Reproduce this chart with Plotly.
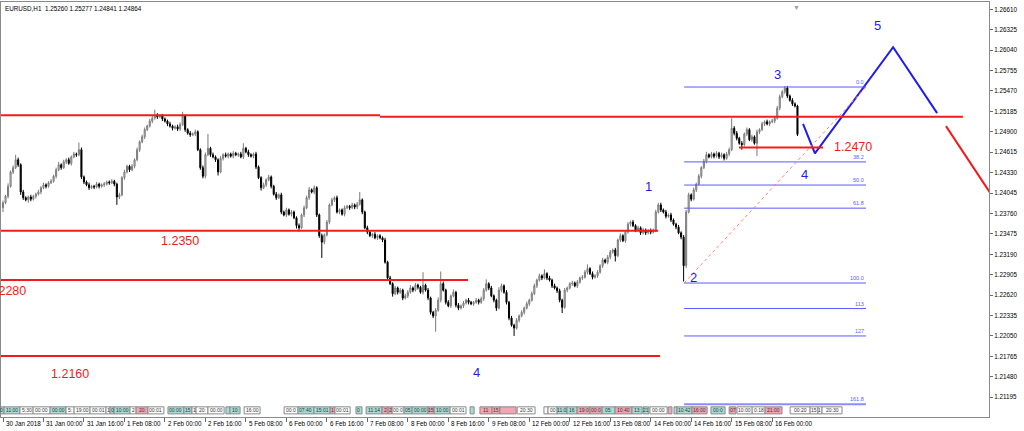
import plotly.graph_objects as go

# ---------------- data ----------------
symbol = "EURUSD,H1"
first_open = 1.2384

close = [
    1.2391, 1.2400, 1.2414, 1.2434, 1.2440, 1.2451, 1.2444, 1.2406, 1.2398, 1.2395,
    1.2399, 1.2396, 1.2400, 1.2403, 1.2406, 1.2412, 1.2416, 1.2414, 1.2419, 1.2421,
    1.2428, 1.2437, 1.2444, 1.2440, 1.2448, 1.2451, 1.2446, 1.2455, 1.2459, 1.2458,
    1.2465, 1.2427, 1.2420, 1.2416, 1.2412, 1.2414, 1.2413, 1.2417, 1.2414, 1.2416,
    1.2417, 1.2420, 1.2419, 1.2421, 1.2417, 1.2399, 1.2402, 1.2426, 1.2434, 1.2442,
    1.2437, 1.2442, 1.2451, 1.2465, 1.2476, 1.2483, 1.2493, 1.2498, 1.2505, 1.2509,
    1.2513, 1.2511, 1.2512, 1.2508, 1.2505, 1.2501, 1.2498, 1.2495, 1.2497, 1.2494,
    1.2500, 1.2512, 1.2493, 1.2488, 1.2486, 1.2487, 1.2490, 1.2465, 1.2440, 1.2428,
    1.2458, 1.2467, 1.2458, 1.2455, 1.2451, 1.2434, 1.2453, 1.2458, 1.2456, 1.2459,
    1.2456, 1.2460, 1.2458, 1.2459, 1.2455, 1.2467, 1.2462, 1.2458, 1.2456, 1.2459,
    1.2441, 1.2426, 1.2412, 1.2416, 1.2423, 1.2427, 1.2414, 1.2403, 1.2398, 1.2402,
    1.2378, 1.2374, 1.2381, 1.2375, 1.2378, 1.2370, 1.2359, 1.2356, 1.2374, 1.2384,
    1.2398, 1.2409, 1.2406, 1.2412, 1.2374, 1.2345, 1.2336, 1.2346, 1.2364, 1.2388,
    1.2395, 1.2398, 1.2378, 1.2381, 1.2375, 1.2384, 1.2386, 1.2384, 1.2388, 1.2385,
    1.2389, 1.2395, 1.2378, 1.2356, 1.2350, 1.2345, 1.2347, 1.2342, 1.2345, 1.2342,
    1.2339, 1.2308, 1.2286, 1.2278, 1.2264, 1.2272, 1.2266, 1.2269, 1.2258, 1.2261,
    1.2266, 1.2272, 1.2269, 1.2276, 1.2273, 1.2266, 1.2276, 1.2269, 1.2258, 1.2238,
    1.2233, 1.2241, 1.2255, 1.2278, 1.2269, 1.2252, 1.2247, 1.2261, 1.2266, 1.2248,
    1.2244, 1.2247, 1.2251, 1.2255, 1.2252, 1.2250, 1.2252, 1.2255, 1.2252, 1.2257,
    1.2269, 1.2278, 1.2272, 1.2261, 1.2255, 1.2244, 1.2269, 1.2275, 1.2266, 1.2252,
    1.2230, 1.2220, 1.2216, 1.2227, 1.2233, 1.2238, 1.2244, 1.2250, 1.2255, 1.2264,
    1.2275, 1.2283, 1.2289, 1.2286, 1.2292, 1.2286, 1.2283, 1.2275, 1.2272, 1.2268,
    1.2255, 1.2245, 1.2269, 1.2272, 1.2278, 1.2279, 1.2275, 1.2280, 1.2286, 1.2287,
    1.2294, 1.2299, 1.2292, 1.2287, 1.2289, 1.2294, 1.2303, 1.2311, 1.2308, 1.2315,
    1.2322, 1.2325, 1.2317, 1.2339, 1.2345, 1.2338, 1.2350, 1.2361, 1.2364, 1.2359,
    1.2353, 1.2356, 1.2349, 1.2353, 1.2349, 1.2352, 1.2350, 1.2353, 1.2378, 1.2388,
    1.2381, 1.2378, 1.2372, 1.2374, 1.2367, 1.2361, 1.2357, 1.2349, 1.2343, 1.2303,
    1.2378, 1.2402, 1.2396, 1.2409, 1.2417, 1.2428, 1.2440, 1.2449, 1.2458, 1.2455,
    1.2459, 1.2456, 1.2460, 1.2455, 1.2458, 1.2453, 1.2459, 1.2465, 1.2495, 1.2488,
    1.2481, 1.2474, 1.2472, 1.2487, 1.2493, 1.2479, 1.2483, 1.2474, 1.2490, 1.2493,
    1.2501, 1.2504, 1.2501, 1.2504, 1.2505, 1.2509, 1.2523, 1.2539, 1.2546, 1.2551,
    1.2540, 1.2534, 1.2529, 1.2526, 1.24864,
]

upper_wick_pips = [
    3, 2, 4, 2, 3, 7, 3, 2, 3, 2,
    2, 3, 2, 2, 3, 2, 3, 2, 2, 3,
    2, 3, 4, 2, 3, 2, 3, 2, 3, 2,
    10, 3, 2, 2, 3, 2, 2, 3, 2, 2,
    3, 2, 2, 3, 2, 2, 3, 2, 3, 2,
    2, 3, 2, 3, 2, 3, 3, 2, 3, 4,
    8, 3, 2, 3, 2, 2, 3, 2, 2, 3,
    3, 6, 2, 2, 3, 2, 3, 2, 2, 3,
    3, 20, 2, 3, 2, 2, 3, 2, 3, 2,
    2, 3, 2, 2, 3, 7, 2, 3, 2, 2,
    3, 2, 2, 3, 2, 3, 2, 2, 3, 2,
    3, 2, 3, 2, 3, 2, 2, 3, 2, 3,
    3, 4, 2, 3, 2, 2, 3, 2, 3, 2,
    3, 2, 3, 2, 2, 3, 2, 2, 3, 2,
    3, 11, 2, 2, 3, 2, 2, 3, 2, 2,
    2, 3, 2, 3, 2, 3, 2, 3, 2, 3,
    3, 4, 2, 3, 2, 2, 18, 2, 3, 2,
    2, 3, 4, 17, 3, 2, 3, 2, 4, 2,
    3, 2, 3, 2, 3, 2, 2, 3, 2, 3,
    3, 6, 2, 3, 2, 2, 4, 3, 2, 3,
    2, 3, 2, 3, 2, 3, 2, 3, 2, 3,
    3, 2, 3, 2, 6, 2, 3, 2, 3, 2,
    3, 2, 3, 2, 2, 3, 2, 3, 2, 3,
    3, 6, 2, 3, 2, 3, 2, 3, 2, 3,
    3, 2, 3, 2, 3, 2, 3, 3, 2, 3,
    2, 3, 2, 3, 2, 2, 3, 2, 3, 3,
    3, 2, 3, 2, 3, 2, 2, 3, 2, 3,
    3, 3, 2, 3, 2, 3, 2, 3, 4, 2,
    3, 2, 3, 2, 3, 2, 3, 3, 14, 3,
    3, 2, 3, 2, 3, 2, 3, 2, 3, 2,
    3, 2, 3, 2, 3, 2, 3, 3, 2, 3,
    3, 2, 3, 2, 1.7,
]

lower_wick_pips = [
    6, 2, 3, 2, 3, 2, 3, 4, 3, 2,
    4, 3, 2, 3, 2, 3, 2, 3, 2, 2,
    2, 3, 2, 3, 2, 3, 2, 3, 2, 3,
    2, 3, 3, 2, 3, 2, 3, 2, 3, 2,
    3, 2, 3, 2, 3, 11, 3, 2, 3, 2,
    3, 2, 3, 2, 3, 2, 3, 2, 2, 3,
    2, 3, 2, 3, 2, 3, 2, 3, 2, 3,
    3, 2, 3, 2, 3, 2, 3, 2, 3, 3,
    3, 2, 3, 2, 3, 5, 2, 3, 2, 3,
    2, 3, 2, 3, 2, 3, 2, 3, 2, 3,
    3, 2, 4, 2, 3, 2, 3, 2, 3, 2,
    3, 2, 3, 2, 3, 2, 4, 5, 2, 3,
    2, 3, 2, 3, 3, 3, 22, 3, 2, 3,
    2, 3, 2, 3, 2, 3, 2, 3, 2, 3,
    3, 2, 3, 2, 3, 2, 3, 2, 3, 2,
    3, 2, 3, 2, 4, 2, 3, 2, 3, 2,
    3, 2, 3, 2, 3, 2, 3, 2, 3, 3,
    3, 22, 2, 3, 2, 3, 2, 3, 2, 3,
    3, 2, 3, 2, 3, 2, 3, 2, 3, 2,
    3, 2, 3, 2, 3, 4, 2, 3, 2, 3,
    3, 2, 11, 2, 3, 2, 3, 2, 3, 2,
    2, 3, 2, 3, 2, 3, 2, 3, 2, 3,
    3, 8, 2, 3, 2, 3, 2, 3, 2, 3,
    2, 3, 2, 3, 2, 3, 2, 3, 2, 3,
    3, 2, 8, 2, 3, 2, 3, 2, 3, 2,
    3, 2, 3, 2, 3, 2, 3, 2, 3, 2,
    3, 2, 3, 2, 3, 2, 3, 2, 3, 22,
    3, 2, 3, 2, 3, 2, 3, 2, 3, 2,
    2, 3, 2, 3, 2, 3, 2, 3, 2, 3,
    3, 2, 7, 2, 3, 2, 3, 2, 18, 3,
    2, 3, 2, 3, 2, 3, 2, 3, 2, 3,
    3, 2, 3, 2, 2.3,
]

y_ticks = [1.21195, 1.21480, 1.21765, 1.22050, 1.22335, 1.22620, 1.22905, 1.23190,
           1.23475, 1.23760, 1.24045, 1.24330, 1.24615, 1.24900, 1.25185, 1.25470,
           1.25755, 1.26040, 1.26325, 1.26610]

x_tick_index = [0, 16, 32, 48, 64, 80, 96, 112, 128, 144, 160, 176, 192, 208,
                224, 240, 256, 272, 288, 304]
x_tick_text = ["30 Jan 2018", "31 Jan 00:00", "31 Jan 16:00", "1 Feb 08:00",
               "2 Feb 00:00", "2 Feb 16:00", "5 Feb 08:00", "6 Feb 00:00",
               "6 Feb 16:00", "7 Feb 08:00", "8 Feb 00:00", "8 Feb 16:00",
               "9 Feb 08:00", "12 Feb 00:00", "12 Feb 16:00", "13 Feb 08:00",
               "14 Feb 00:00", "14 Feb 16:00", "15 Feb 08:00", "16 Feb 00:00"]

# red support / resistance levels
red_level_price = [1.2513, 1.2511, 1.2352, 1.2283, 1.2177, 1.2468]
red_level_start = [-1.2, 149.0, -1.2, -1.2, -1.2, 290.9]
red_level_end = [149.0, 379.4, 258.9, 183.8, 259.7, 324.1]
red_label_text = ["1.2350", "1.2280", "1.2160", "1.2470"]
red_label_x = [70.0, 9.9, 26.5, 336.0]
red_label_y = [1.23376, 1.22678, 1.21519, 1.24688]
red_label_anchor = ["center", "right", "center", "center"]
red_diag_x = [372.7, 390.1]
red_diag_y = [1.2498, 1.2405]

# fibonacci retracement
fib_high = 1.25525
fib_low = 1.22789
fib_levels = [0.0, 38.2, 50.0, 61.8, 100.0, 113.0, 127.0, 161.8]
fib_text = ["0.0", "38.2", "50.0", "61.8", "100.0", "113", "127", "161.8"]
fib_start = 269.2
fib_end = 341.1

# Elliott wave projection and labels
wave_x = [316.2, 320.9, 351.8, 369.2]
wave_y = [1.2501, 1.2460, 1.2608, 1.2516]
wave_label_text = ["1", "2", "3", "4", "5", "4"]
wave_label_x = [255.3, 273.1, 306.3, 316.6, 345.5, 187.0]
wave_label_y = [1.24143, 1.22873, 1.25707, 1.24310, 1.26391, 1.21547]

# economic-calendar event strip (bar index span, text, kind)
event_start = [-1.2, 0.4, 6.7, 11.9, 18.6, 24.9, 28.1, 34.4, 40.7, 42.3, 43.9, 50.2,
               52.6, 57.3, 65.2, 71.5, 74.7, 76.3, 81.0, 88.1, 89.7, 95.3, 111.1,
               116.6, 122.9, 129.3, 131.2, 139.5, 143.5, 149.8, 152.2, 153.8, 158.5,
               161.7, 168.0, 170.4, 176.7, 184.6, 188.5, 193.3, 196.4, 203.2, 213.8,
               215.4, 219.0, 222.9, 226.9, 232.0, 236.8, 241.9, 248.6, 253.0, 255.7,
               262.9, 265.2, 266.4, 272.3, 279.8, 287.0, 290.1, 296.1, 301.2, 311.1,
               319.0, 322.1, 323.7]
event_end = [0.4, 6.7, 11.9, 18.6, 24.9, 28.1, 34.4, 40.7, 42.3, 43.9, 50.2, 52.6,
             57.3, 63.6, 71.5, 74.7, 76.3, 81.0, 87.4, 89.7, 93.7, 101.6, 116.6,
             122.9, 129.3, 131.2, 137.2, 141.9, 149.8, 152.2, 153.8, 158.5, 161.7,
             168.0, 170.4, 176.7, 183.0, 186.2, 193.3, 196.4, 202.8, 210.3, 215.4,
             219.0, 222.9, 226.9, 232.0, 236.8, 241.9, 248.6, 252.6, 255.3, 262.5,
             264.4, 266.4, 272.3, 278.3, 285.4, 289.7, 296.1, 301.2, 307.9, 319.0,
             322.1, 323.7, 331.6]
event_text = ["0", "11:00", "5:30", "00:00", "00:00", "5:", "19:00", "00:01", "1", "0",
              "10:00", "2", "20:", "00:01", "00:00", "15", "1", "20:", "00:00", "",
              "10:", "16:00", "00:0", "07:40", "15:01", "1", "00:01", "0", "11:14",
              "2", "2", "00:0", "05", "00:00", "15", "10:00", "00:01", "", "11:",
              "15", "", "20:30", "", "00", "11:0", "16", "19:0", "00:0", "05:",
              "10:40", "13:", "21", "00:00", "", "", "10:42", "16:00", "00:0", "07",
              "10:00", "0:18", "21:00", "00:20", "15", "1", "20:30"]
event_kind = ["t", "t", "w", "w", "t", "w", "w", "w", "w", "t",
              "t", "w", "p", "w", "t", "t", "w", "w", "w", "t",
              "t", "w", "w", "t", "t", "p", "w", "t", "t",
              "p", "p", "w", "t", "t", "p", "t", "w", "t", "p",
              "p", "p", "w", "w", "w", "t", "t", "p", "p", "t",
              "p", "t", "t", "w", "p", "t", "t", "p", "t", "p",
              "w", "w", "p", "w", "w", "w", "w"]

# ---------------- build figure ----------------
opens = [first_open] + close[:-1]
highs = [max(o, c) + u / 10000 for o, c, u in zip(opens, close, upper_wick_pips)]
lows = [min(o, c) - w / 10000 for o, c, w in zip(opens, close, lower_wick_pips)]
bars = list(range(len(close)))

FONT = "Liberation Sans, Arial, sans-serif"
RED = "#f01c1c"
BLUE = "#1e1ee6"
FIB = "#5a5aff"

fig = go.Figure()
fig.add_trace(go.Candlestick(
    x=bars, open=opens, high=highs, low=lows, close=close,
    increasing=dict(line=dict(color="#7a7a7a", width=1), fillcolor="#dcdcdc"),
    decreasing=dict(line=dict(color="#000000", width=1), fillcolor="#000000"),
    whiskerwidth=0, hoverinfo="skip", showlegend=False,
))

shapes = []
annotations = []

# event strip
kind_color = {"t": "#a6ddd6", "p": "#f2a6b4", "w": "#ffffff"}
for s, e, t, k in zip(event_start, event_end, event_text, event_kind):
    shapes.append(dict(type="rect", xref="x", yref="paper", x0=s, x1=e,
                       y0=0.0075, y1=0.0245, line=dict(color="#8a8a8a", width=1),
                       fillcolor=kind_color[k], layer="below"))
    if t:
        annotations.append(dict(x=(s + e) / 2, y=0.016, xref="x", yref="paper",
                                text=t, showarrow=False, xanchor="center",
                                yanchor="middle",
                                font=dict(family=FONT, size=5, color="#333333")))

# red levels
for p, s, e in zip(red_level_price, red_level_start, red_level_end):
    shapes.append(dict(type="line", xref="x", yref="y", x0=s, x1=e, y0=p, y1=p,
                       line=dict(color=RED, width=2)))
shapes.append(dict(type="line", xref="x", yref="y", x0=red_diag_x[0], x1=red_diag_x[1],
                   y0=red_diag_y[0], y1=red_diag_y[1], line=dict(color=RED, width=2)))
for t, x, y, a in zip(red_label_text, red_label_x, red_label_y, red_label_anchor):
    annotations.append(dict(x=x, y=y, xref="x", yref="y", text=t, showarrow=False,
                            xanchor=a, yanchor="middle",
                            font=dict(family=FONT, size=12.5, color=RED)))

# fibonacci
for lvl, t in zip(fib_levels, fib_text):
    p = fib_high - (fib_high - fib_low) * lvl / 100.0
    wide = lvl > 150
    shapes.append(dict(type="line", xref="x", yref="y", x0=fib_start, x1=fib_end,
                       y0=p, y1=p,
                       line=dict(color="#8c8cff" if wide else FIB, width=2 if wide else 1)))
    annotations.append(dict(x=fib_end, y=p, xref="x", yref="y", text=t,
                            showarrow=False, xanchor="right", yanchor="bottom",
                            yshift=0, font=dict(family=FONT, size=5.5, color=FIB)))
shapes.append(dict(type="line", xref="x", yref="y", x0=fib_start, x1=fib_end,
                   y0=fib_low, y1=fib_high,
                   line=dict(color="#ff7a7a", width=1, dash="dot")))

# wave projection
fig.add_trace(go.Scatter(x=wave_x, y=wave_y, mode="lines",
                         line=dict(color=BLUE, width=2), hoverinfo="skip",
                         showlegend=False, cliponaxis=True))
for t, x, y in zip(wave_label_text, wave_label_x, wave_label_y):
    annotations.append(dict(x=x, y=y, xref="x", yref="y", text=t, showarrow=False,
                            xanchor="center", yanchor="middle",
                            font=dict(family=FONT, size=13, color=BLUE)))

# x tick labels (left-aligned at tick, MT4 style)
for i, t in zip(x_tick_index, x_tick_text):
    annotations.append(dict(x=i, y=-0.0145, xref="x", yref="paper", text=t,
                            showarrow=False, xanchor="left", yanchor="middle",
                            xshift=1, font=dict(family=FONT, size=6.3, color="#000000")))

# header text built from the last bar
title_txt = "%s  %.5f %.5f %.5f %.5f" % (symbol, opens[-1], highs[-1], lows[-1], close[-1])
annotations.append(dict(x=0.002, y=0.9855, xref="paper", yref="paper", text=title_txt,
                        showarrow=False, xanchor="left", yanchor="middle",
                        font=dict(family=FONT, size=6.3, color="#000000")))
# chart-shift marker
annotations.append(dict(x=313.8, y=1.0, xref="x", yref="paper", text="▼",
                        showarrow=False, xanchor="center", yanchor="top",
                        font=dict(family=FONT, size=7, color="#a0a0a0")))

fig.update_layout(
    width=1024, height=431,
    margin=dict(l=1, r=35, t=2, b=14),
    paper_bgcolor="#ffffff", plot_bgcolor="#ffffff",
    shapes=shapes, annotations=annotations,
    boxgap=0.4,
    showlegend=False,
    xaxis=dict(range=[-0.79, 389.7], rangeslider=dict(visible=False),
               showgrid=False, zeroline=False, showline=True, mirror=True,
               linecolor="#8a8a8a", linewidth=1,
               tickvals=x_tick_index, ticks="outside", ticklen=4,
               tickcolor="#6a6a6a", showticklabels=False),
    yaxis=dict(range=[1.20919, 1.26712], side="right", showgrid=False,
               zeroline=False, showline=True, mirror=True, linecolor="#8a8a8a",
               linewidth=1, tickvals=y_ticks, tickformat=".5f", ticks="outside",
               ticklen=3, tickcolor="#6a6a6a",
               tickfont=dict(family=FONT, size=6.3, color="#000000")),
)

fig.write_html(
    "out.html",
    config={"displayModeBar": False},
    post_script="document.body.style.margin='0';document.body.style.overflow='hidden';",
)
